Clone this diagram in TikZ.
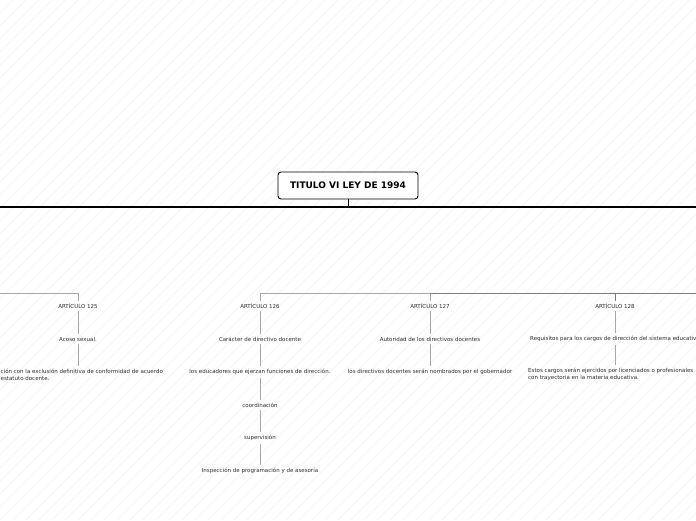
\documentclass[tikz,border=0pt]{standalone}
\usepackage{fontspec}
\setmainfont{DejaVu Sans}
\usetikzlibrary{positioning}
\definecolor{hatch}{HTML}{F3F3F3}
\definecolor{linkgrey}{HTML}{A8A8A8}
\definecolor{linkdark}{HTML}{7C7C7C}
\definecolor{inktext}{HTML}{2E2E2E}

\begin{document}
\begin{tikzpicture}[x=1pt, y=-1pt, font=\fontsize{5.5}{7}\selectfont,
    topic/.style={text=inktext, inner xsep=1pt, inner ysep=2.6pt},
    link/.style={linkgrey, line width=0.8pt}]
  \clip (0,0) rectangle (696,520);
  \fill[white] (0,0) rectangle (696,520);
  \foreach \k in {-41,...,54}{%
    \draw[hatch, line width=0.4pt] (13*\k,520) -- (13*\k+520,0);}

  % central topic
  \node[draw, rounded corners=3pt, line width=0.9pt, fill=white,
        minimum width=140, minimum height=27,
        font=\bfseries\fontsize{9}{11}\selectfont] (titulo) at (348,185.5)
        {TITULO VI LEY DE 1994};
  \coordinate (barL) at (0,207);
  \coordinate (barR) at (696,207);
  \draw[line width=0.9pt] (titulo.south) -- (titulo.south |- barL);
  \draw[line width=1.3pt] (barL) -- (barR);

  % articles
  \coordinate (subL) at (0,293);
  \coordinate (subR) at (696,293);
  \node[topic] (art125) at (78,306) {ARTÍCULO 125};
  \node[topic] (art126) at (260,306) {ARTÍCULO 126};
  \node[topic] (art127) at (430,306) {ARTÍCULO 127};
  \node[topic] (art128) at (615,306) {ARTÍCULO 128};
  \draw[link] (subL) -| (art125.north);
  \draw[link] (art126.north) |- (art127.north |- subL) -- (art127.north);
  \draw[link, linkdark] (art127.north |- subL) -| (art128.north);
  \draw[link, linkdark] (art128.north |- subL) -- (subR);

  % article 125
  \node[topic] (acoso) at (78,339) {Acoso sexual.};
  \node[topic, align=left, anchor=west] (sancion) at (-0.5,374.5)
    {ción con la exclusión definitiva de conformidad de acuerdo\\
     estatuto docente.};
  \draw[link] (art125) -- (acoso);
  \draw[link] (acoso) -- (acoso |- sancion.north);

  % article 126
  \node[topic] (caracter) at (260,339) {Carácter de directivo docente};
  \node[topic] (educadores) at (260,372)
    {los educadores que ejerzan funciones de dirección.};
  \node[topic] (coord) at (260,405) {coordinación};
  \node[topic] (superv) at (260,438) {supervisión};
  \node[topic] (inspec) at (260,471) {Inspección de programación y de asesoría};
  \draw[link] (art126) -- (caracter);
  \draw[link] (caracter) -- (educadores);
  \draw[link] (educadores) -- (coord);
  \draw[link] (coord) -- (superv);
  \draw[link] (superv) -- (inspec);

  % article 127
  \node[topic] (autoridad) at (430,339) {Autoridad de los directivos docentes};
  \node[topic] (nombrados) at (430,372)
    {los directivos docentes serán nombrados por el gobernador};
  \draw[link] (art127) -- (autoridad);
  \draw[link] (autoridad) -- (nombrados);

  % article 128
  \node[topic] (requisitos) at (615,339)
    {Requisitos para los cargos de dirección del sistema educativo};
  \node[topic, align=left, anchor=west] (cargos) at (527,374.5)
    {Estos cargos serán ejercidos por licenciados o profesionales\\
     con trayectoria en la materia educativa.};
  \draw[link] (art128) -- (requisitos);
  \draw[link] (requisitos) -- (requisitos |- cargos.north);
\end{tikzpicture}
\end{document}
